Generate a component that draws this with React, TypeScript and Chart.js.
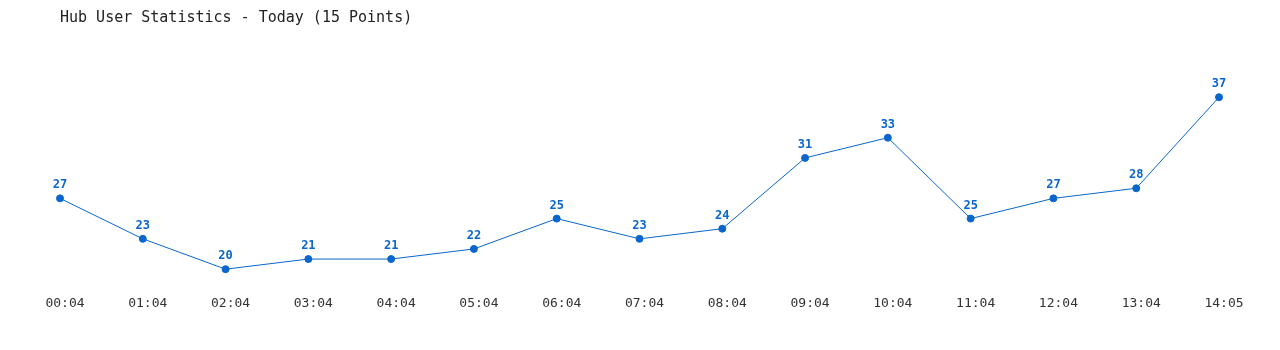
import React, { useEffect, useRef } from "react";
import { Chart, registerables } from "chart.js";

Chart.register(...registerables);

const categories = ["00:04", "01:04", "02:04", "03:04", "04:04", "05:04", "06:04", "07:04", "08:04", "09:04", "10:04", "11:04", "12:04", "13:04", "14:05"];
const users = [27, 23, 20, 21, 21, 22, 25, 23, 24, 31, 33, 25, 27, 28, 37];
const titleText = "Hub User Statistics - Today (15 Points)";

const LINE = "#0a66cc";
const MONO = "'DejaVu Sans Mono', 'Liberation Mono', monospace";

const valueLabels = {
  id: "valueLabels",
  afterDatasetsDraw(chart: any) {
    const ctx = chart.ctx;
    const meta = chart.getDatasetMeta(0);
    ctx.save();
    ctx.font = `bold 12px ${MONO}`;
    ctx.fillStyle = LINE;
    ctx.textAlign = "center";
    ctx.textBaseline = "middle";
    meta.data.forEach((pt: any, i: number) => {
      ctx.fillText(String(chart.data.datasets[0].data[i]), pt.x, pt.y - 13);
    });
    ctx.restore();
  },
};

export default function App() {
  const ref = useRef<HTMLCanvasElement | null>(null);
  useEffect(() => {
    if (!ref.current) return;
    const chart = new Chart(ref.current, {
      type: "line",
      data: {
        labels: categories,
        datasets: [
          {
            data: users,
            borderColor: LINE,
            backgroundColor: LINE,
            borderWidth: 1,
            pointRadius: 3.5,
            pointHoverRadius: 3.5,
            pointBackgroundColor: LINE,
            pointBorderColor: LINE,
            tension: 0,
            fill: false,
          },
        ],
      },
      options: {
        animation: false,
        responsive: true,
        maintainAspectRatio: false,
        layout: { padding: { left: 52, right: 53, top: 0, bottom: 25 } },
        plugins: {
          legend: { display: false },
          tooltip: { enabled: false },
          title: {
            display: true,
            text: titleText,
            align: "start",
            color: "#222",
            font: { family: MONO, size: 15, weight: "normal" },
            padding: { top: 1, bottom: 50 },
          },
        },
        scales: {
          x: {
            offset: false,
            grid: { display: false, drawTicks: false, tickLength: 0 },
            border: { display: false },
            ticks: {
              color: "#333",
              font: { family: MONO, size: 13 },
              padding: 6,
              labelOffset: 5,
              maxRotation: 0,
              autoSkip: false,
            },
          },
          y: {
            display: false,
            min: 18,
            max: 39,
          },
        },
      },
      plugins: [valueLabels],
    });
    return () => chart.destroy();
  }, []);
  return (
    <div style={{ width: "1264px", height: "334px", position: "relative" }}>
      <canvas ref={ref} />
    </div>
  );
}
